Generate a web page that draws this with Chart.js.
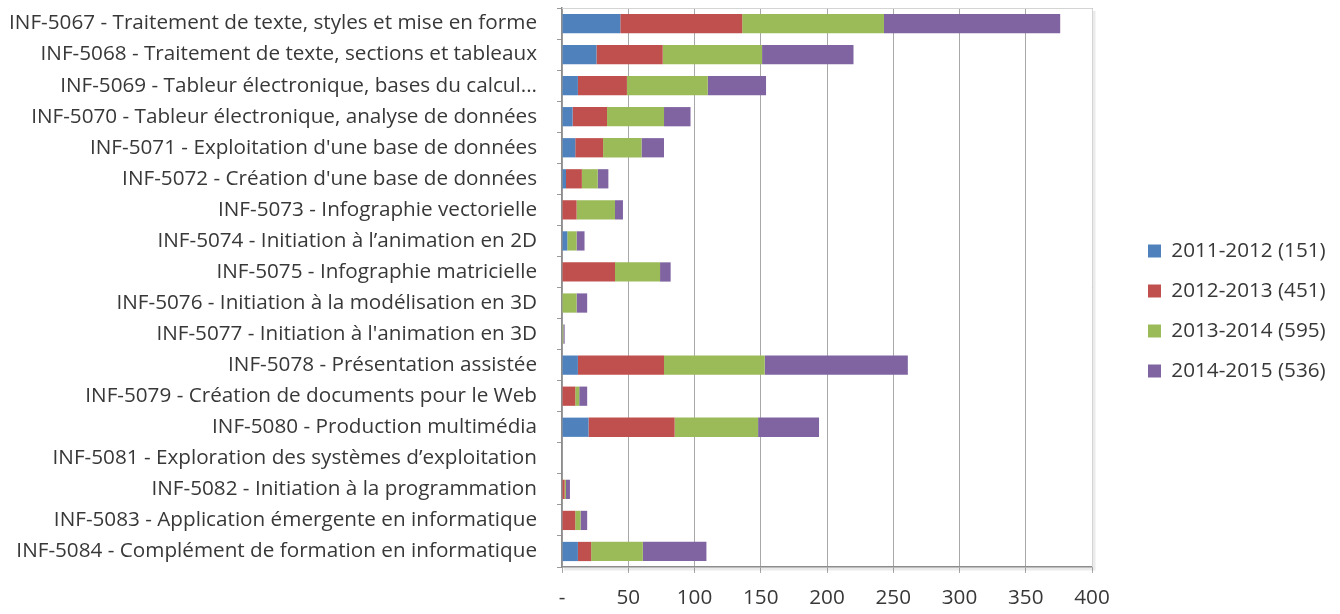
<!DOCTYPE html>
<html>
<head>
<meta charset="utf-8">
<script src="https://cdn.jsdelivr.net/npm/chart.js@4/dist/chart.umd.min.js"></script>
<style>
  html, body { margin: 0; padding: 0; background: #ffffff; }
  #wrap { width: 1340px; height: 614px; position: relative; }
</style>
</head>
<body>
<div id="wrap"><canvas id="c" width="1340" height="614"></canvas></div>
<script>
// ---- Data ----
const categories = [
  "INF-5067 - Traitement de texte, styles et mise en forme",
  "INF-5068 - Traitement de texte, sections et tableaux",
  "INF-5069 - Tableur électronique, bases du calcul...",
  "INF-5070 - Tableur électronique, analyse de données",
  "INF-5071 - Exploitation d'une base de données",
  "INF-5072 - Création d'une base de données",
  "INF-5073 - Infographie vectorielle",
  "INF-5074 - Initiation à l’animation en 2D",
  "INF-5075 - Infographie matricielle",
  "INF-5076 - Initiation à la modélisation en 3D",
  "INF-5077 - Initiation à l'animation en 3D",
  "INF-5078 - Présentation assistée",
  "INF-5079 - Création de documents pour le Web",
  "INF-5080 - Production multimédia",
  "INF-5081 - Exploration des systèmes d’exploitation",
  "INF-5082 - Initiation à la programmation",
  "INF-5083 - Application émergente en informatique",
  "INF-5084 - Complément de formation en informatique"
];
const seriesLabels = ["2011-2012 (151)", "2012-2013 (451)", "2013-2014 (595)", "2014-2015 (536)"];
const s2011 = [44, 26, 12, 8, 10, 3, 0, 4, 0, 0, 0, 12, 0, 20, 0, 0, 0, 12];
const s2012 = [92, 50, 37, 26, 21, 12, 11, 0, 40, 0, 0, 65, 10, 65, 0, 2, 10, 10];
const s2013 = [107, 75, 61, 43, 29, 12, 29, 7, 34, 11, 1, 76, 3, 63, 0, 1, 4, 39];
const s2014 = [133, 69, 44, 20, 17, 8, 6, 6, 8, 8, 1, 108, 6, 46, 0, 3, 5, 48];
const xTickValues = [0, 50, 100, 150, 200, 250, 300, 350, 400];

// ---- Styles ----
const colors = ["#4F81BD", "#C0504D", "#9BBB59", "#8064A2"];
const FONT = "'Open Sans', 'DejaVu Sans', sans-serif";
const FS = 20.7;
const TEXT = "#383838";
const PLOT_LEFT = 562, PLOT_RIGHT = 1092, PLOT_TOP = 8, PLOT_BOTTOM = 567;
const W = 1340, H = 614;
const LEGEND_GAP = 56;

const seriesData = [s2011, s2012, s2013, s2014];
const datasets = seriesData.map((d, i) => ({
  label: seriesLabels[i],
  data: d,
  backgroundColor: colors[i],
  borderWidth: 0,
  barPercentage: 0.62,
  categoryPercentage: 1.0
}));

const frame = {
  id: 'frame',
  beforeDatasetsDraw(chart) {
    const a = chart.chartArea, ctx = chart.ctx;
    ctx.save();
    ctx.strokeStyle = 'rgba(0,0,0,0.08)';
    ctx.lineWidth = 3;
    ctx.beginPath();
    ctx.moveTo(a.right + 2, a.top + 3);
    ctx.lineTo(a.right + 2, a.bottom + 2);
    ctx.lineTo(a.left + 2, a.bottom + 2);
    ctx.stroke();
    ctx.strokeStyle = '#d4d4d4';
    ctx.lineWidth = 1;
    ctx.beginPath();
    ctx.moveTo(a.left, a.top + 0.5);
    ctx.lineTo(a.right + 0.5, a.top + 0.5);
    ctx.lineTo(a.right + 0.5, a.bottom);
    ctx.stroke();
    ctx.restore();
  }
};

const legendPlace = {
  id: 'legendPlace',
  afterLayout(chart) {
    const lg = chart.legend;
    if (!lg) return;
    const pad = lg.options.labels.padding;
    const left = chart.chartArea.right + LEGEND_GAP - pad;
    lg.left = left;
    lg.right = left + lg.width;
  }
};

new Chart(document.getElementById('c'), {
  type: 'bar',
  data: { labels: categories, datasets },
  plugins: [frame, legendPlace],
  options: {
    indexAxis: 'y',
    responsive: false,
    animation: false,
    devicePixelRatio: 1,
    layout: { padding: { top: PLOT_TOP, left: 0, right: 0, bottom: 0 } },
    plugins: {
      legend: {
        position: 'right',
        align: 'center',
        labels: {
          boxWidth: 13,
          boxHeight: 13,
          padding: 19.3,
          color: TEXT,
          font: { family: FONT, size: FS }
        }
      },
      tooltip: { enabled: false }
    },
    scales: {
      x: {
        stacked: true,
        min: 0,
        max: 400,
        afterBuildTicks(scale) { scale.ticks = xTickValues.map(v => ({ value: v })); },
        afterFit(scale) {
          scale.height = H - PLOT_BOTTOM;
          scale.paddingRight = W - PLOT_RIGHT;
        },
        grid: {
          color: '#a8a8a8',
          lineWidth: 1,
          tickLength: 6,
          tickColor: '#a8a8a8'
        },
        border: { color: '#8c8c8c', width: 1.5 },
        ticks: {
          color: TEXT,
          font: { family: FONT, size: FS },
          padding: 13,
          maxRotation: 0,
          callback: (v) => (v === 0 ? '-' : String(v))
        }
      },
      y: {
        stacked: true,
        afterFit(scale) {
          scale.width = PLOT_LEFT;
          scale.paddingTop = 0;
          scale.paddingBottom = 0;
        },
        grid: {
          offset: true,
          drawOnChartArea: false,
          tickLength: 5,
          tickColor: '#9a9a9a'
        },
        border: { color: '#8c8c8c', width: 1.5 },
        ticks: {
          color: TEXT,
          font: { family: FONT, size: FS },
          padding: 20,
          autoSkip: false
        }
      }
    }
  }
});
</script>
</body>
</html>
